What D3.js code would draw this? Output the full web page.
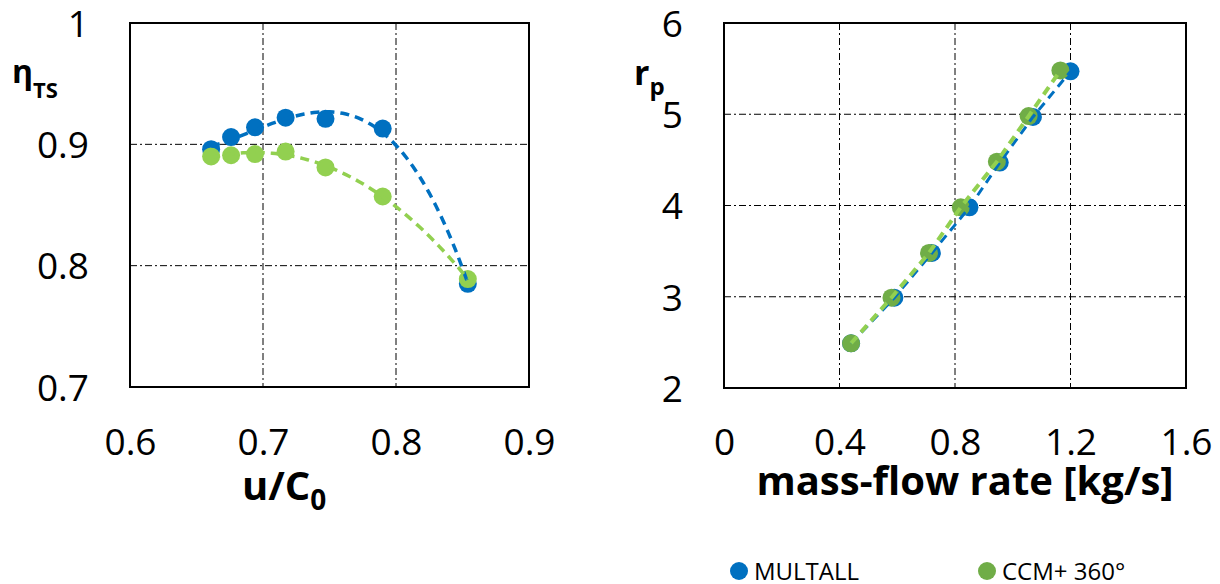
<!DOCTYPE html>
<html>
<head>
<meta charset="utf-8">
<script src="https://cdn.jsdelivr.net/npm/d3@7"></script>
<style>
  body { margin: 0; background: #fff; }
  svg { display: block; }
</style>
</head>
<body>
<div id="chart"></div>
<script>
// left panel: efficiency vs velocity ratio
const velocityRatio = [0.661, 0.676, 0.694, 0.717, 0.747, 0.790, 0.854];
const etaMultall    = [0.896, 0.906, 0.914, 0.922, 0.921, 0.913, 0.785];
const etaCcm        = [0.890, 0.891, 0.892, 0.894, 0.881, 0.857, 0.789];

// right panel: pressure ratio vs mass-flow rate
const massFlowMultall = [0.44, 0.59, 0.72, 0.85, 0.955, 1.07, 1.20];
const massFlowCcm     = [0.44, 0.58, 0.71, 0.82, 0.945, 1.055, 1.165];
const rpMultall       = [2.49, 2.99, 3.48, 3.98, 4.47, 4.97, 5.47];
const rpCcm           = [2.49, 2.99, 3.48, 3.98, 4.48, 4.98, 5.48];

const xTicksLeft  = [0.6, 0.7, 0.8, 0.9];
const yTicksLeft  = [0.7, 0.8, 0.9, 1];
const xTicksRight = [0, 0.4, 0.8, 1.2, 1.6];
const yTicksRight = [2, 3, 4, 5, 6];

const seriesNames = ["MULTALL", "CCM+ 360°"];

const blue = "#0070C0";
const lightGreen = "#92D050";
const darkGreen = "#70AD47";
const font = "'Open Sans', 'Noto Sans', sans-serif";

const svg = d3.select("#chart")
  .append("svg")
    .attr("width", 1220)
    .attr("height", 584);

// least-squares polynomial, like a spreadsheet trendline
function polyfit(xs, ys, order) {
  const n = order + 1;
  const xm = d3.mean(xs);
  const A = d3.range(n).map(i => d3.range(n).map(j => d3.sum(xs, x => Math.pow(x - xm, i + j))));
  const b = d3.range(n).map(i => d3.sum(xs, (x, k) => ys[k] * Math.pow(x - xm, i)));
  for (let c = 0; c < n; c++) {
    let p = c;
    for (let r = c + 1; r < n; r++) if (Math.abs(A[r][c]) > Math.abs(A[p][c])) p = r;
    [A[c], A[p]] = [A[p], A[c]];
    [b[c], b[p]] = [b[p], b[c]];
    for (let r = c + 1; r < n; r++) {
      const f = A[r][c] / A[c][c];
      for (let k = c; k < n; k++) A[r][k] -= f * A[c][k];
      b[r] -= f * b[c];
    }
  }
  const coef = new Array(n).fill(0);
  for (let r = n - 1; r >= 0; r--) {
    let s = b[r];
    for (let k = r + 1; k < n; k++) s -= A[r][k] * coef[k];
    coef[r] = s / A[r][r];
  }
  return x => d3.sum(coef, (c, i) => c * Math.pow(x - xm, i));
}

function trend(xs, ys, order) {
  const f = polyfit(xs, ys, order);
  const [x0, x1] = d3.extent(xs);
  return d3.range(81).map(i => {
    const x = x0 + (x1 - x0) * i / 80;
    return [x, f(x)];
  });
}

function drawPanel(cfg) {
  const g = svg.append("g");
  const [left, right] = cfg.x.range();
  const [bottom, top] = cfg.y.range();

  // dash-dot grid
  g.selectAll("line.vgrid")
    .data(cfg.xTicks.slice(1, -1))
    .join("line")
      .attr("class", "vgrid")
      .attr("x1", d => cfg.x(d)).attr("x2", d => cfg.x(d))
      .attr("y1", top).attr("y2", bottom)
      .attr("stroke", "#000")
      .attr("stroke-width", 1)
      .attr("stroke-dasharray", "7,3,2,3");

  g.selectAll("line.hgrid")
    .data(cfg.yTicks.slice(1, -1))
    .join("line")
      .attr("class", "hgrid")
      .attr("x1", left).attr("x2", right)
      .attr("y1", d => cfg.y(d)).attr("y2", d => cfg.y(d))
      .attr("stroke", "#000")
      .attr("stroke-width", 1)
      .attr("stroke-dasharray", "7,3,2,3");

  g.append("rect")
    .attr("x", left)
    .attr("y", top)
    .attr("width", right - left)
    .attr("height", bottom - top)
    .attr("fill", "none")
    .attr("stroke", "#000")
    .attr("stroke-width", 2);

  // markers first, dashed lines on top
  cfg.series.forEach(s => {
    g.append("g")
      .selectAll("circle")
      .data(s.xs.map((x, i) => [x, s.ys[i]]))
      .join("circle")
        .attr("cx", d => cfg.x(d[0]))
        .attr("cy", d => cfg.y(d[1]))
        .attr("r", 9)
        .attr("fill", s.marker);
  });

  const line = d3.line()
    .x(d => cfg.x(d[0]))
    .y(d => cfg.y(d[1]));

  cfg.series.forEach(s => {
    g.append("path")
      .datum(s.path)
      .attr("d", line)
      .attr("fill", "none")
      .attr("stroke", s.line)
      .attr("stroke-width", s.width)
      .attr("stroke-dasharray", "9,6");
  });

  // tick labels
  const yAxis = g.append("g")
    .attr("transform", `translate(${cfg.yLabelX},0)`)
    .call(d3.axisLeft(cfg.y).tickValues(cfg.yTicks).tickSize(0).tickPadding(0).tickFormat(d => String(d)));
  yAxis.select(".domain").remove();
  yAxis.attr("font-family", font).attr("font-size", 37);
  yAxis.selectAll("text").attr("fill", "#000").attr("dy", "0.36em");

  const xAxis = g.append("g")
    .attr("transform", "translate(0,442)")
    .call(d3.axisBottom(cfg.x).tickValues(cfg.xTicks).tickSize(0).tickPadding(0).tickFormat(d => String(d)));
  xAxis.select(".domain").remove();
  xAxis.attr("font-family", font).attr("font-size", 37);
  xAxis.selectAll("text").attr("fill", "#000").attr("y", 0).attr("dy", "0.36em");

  return g;
}

// left panel
const xLeft = d3.scaleLinear().domain([0.6, 0.9]).range([130, 529]);
const yLeft = d3.scaleLinear().domain([0.7, 1]).range([387, 23]);

drawPanel({
  x: xLeft, y: yLeft,
  xTicks: xTicksLeft, yTicks: yTicksLeft, yLabelX: 89,
  series: [
    { xs: velocityRatio, ys: etaMultall, marker: blue, line: blue, width: 3.5,
      path: trend(velocityRatio, etaMultall, 3) },
    { xs: velocityRatio, ys: etaCcm, marker: lightGreen, line: lightGreen, width: 3.5,
      path: trend(velocityRatio, etaCcm, 3) }
  ]
});

// right panel
const xRight = d3.scaleLinear().domain([0, 1.6]).range([724, 1186]);
const yRight = d3.scaleLinear().domain([2, 6]).range([388, 23]);

drawPanel({
  x: xRight, y: yRight,
  xTicks: xTicksRight, yTicks: yTicksRight, yLabelX: 683,
  series: [
    { xs: massFlowMultall, ys: rpMultall, marker: blue, line: blue, width: 3,
      path: massFlowMultall.map((x, i) => [x, rpMultall[i]]) },
    { xs: massFlowCcm, ys: rpCcm, marker: darkGreen, line: lightGreen, width: 4,
      path: massFlowCcm.map((x, i) => [x, rpCcm[i]]) }
  ]
});

// axis titles
const eta = svg.append("text")
  .attr("x", 12)
  .attr("y", 83)
  .attr("font-family", font)
  .attr("font-weight", "bold")
  .attr("font-size", 32);
eta.append("tspan").text("η");
eta.append("tspan").attr("font-size", 22).attr("dy", 15).text("TS");

const rp = svg.append("text")
  .attr("x", 634)
  .attr("y", 85)
  .attr("font-family", font)
  .attr("font-weight", "bold")
  .attr("font-size", 34);
rp.append("tspan").text("r");
rp.append("tspan").attr("font-size", 24).attr("dy", 10).text("p");

const uc = svg.append("text")
  .attr("x", 242)
  .attr("y", 500)
  .attr("font-family", font)
  .attr("font-weight", "bold")
  .attr("font-size", 40);
uc.append("tspan").text("u/C");
uc.append("tspan").attr("font-size", 28).attr("dy", 10).text("0");

svg.append("text")
  .attr("x", 965)
  .attr("y", 495)
  .attr("text-anchor", "middle")
  .attr("font-family", font)
  .attr("font-weight", "bold")
  .attr("font-size", 40)
  .text("mass-flow rate [kg/s]");

// legend
const legend = svg.append("g").attr("font-family", font).attr("font-size", 24);
const legendX = d3.scalePoint().domain(seriesNames).range([739, 987]);
const legendColor = d3.scaleOrdinal().domain(seriesNames).range([blue, darkGreen]);

const item = legend.selectAll("g")
  .data(seriesNames)
  .join("g")
    .attr("transform", d => `translate(${legendX(d)},571)`);

item.append("circle")
  .attr("r", 9)
  .attr("fill", d => legendColor(d));

item.append("text")
  .attr("x", 15)
  .attr("dy", "0.36em")
  .attr("fill", "#000")
  .text(d => d);
</script>
</body>
</html>
